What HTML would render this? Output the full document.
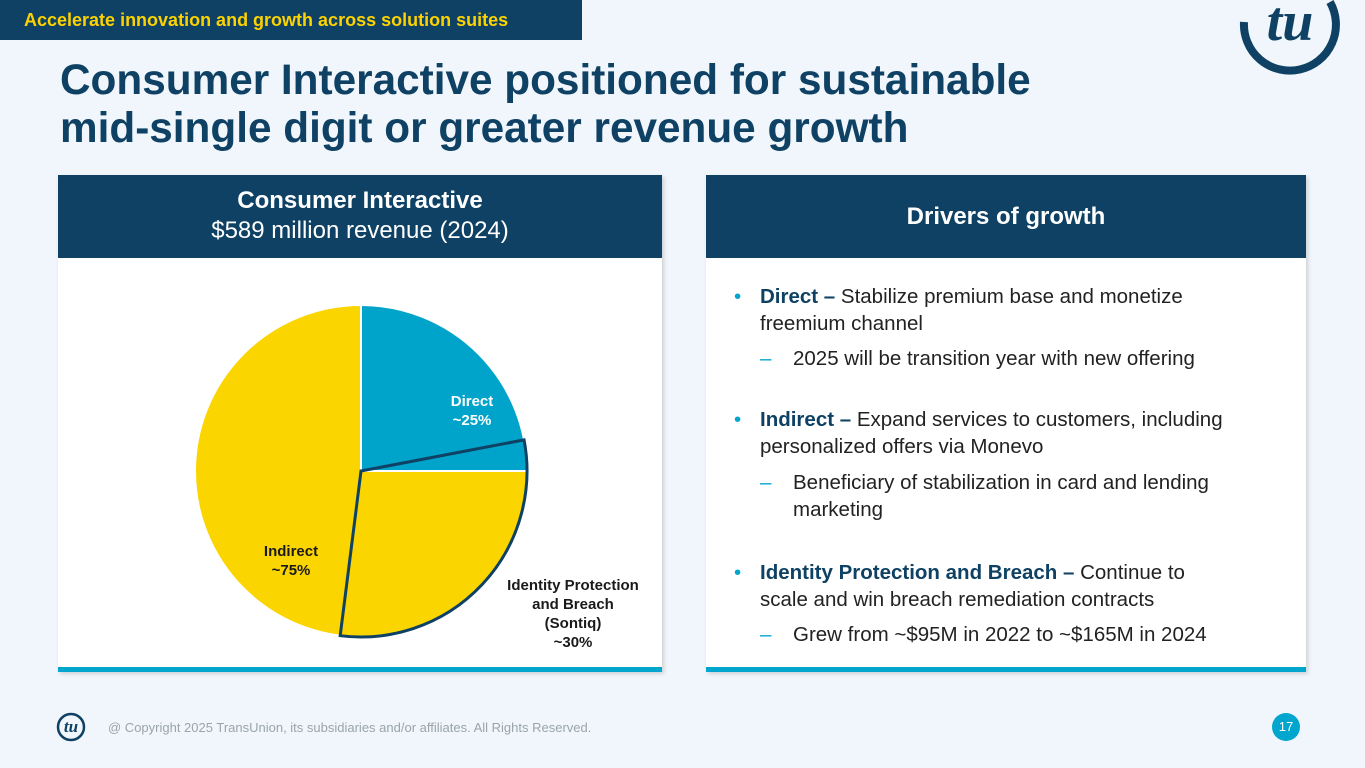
<!DOCTYPE html>
<html><head><meta charset="utf-8"><style>
body{margin:0;width:1365px;height:768px;background:#f0f6fb;font-family:"Liberation Sans",sans-serif;position:relative;overflow:hidden}
.abs{position:absolute}
.hdr{background:#0e4163;color:#fff;text-align:center;font-weight:bold}
.card{background:#fff;box-shadow:2px 2px 4px rgba(0,0,0,.15)}
.bar{background:#00a6ce}
.b{position:absolute;left:0;color:#222;font-size:20.5px;line-height:27px}
.b .m{position:absolute;left:-26px;color:#00a6ce}
</style></head><body>
<div class="abs" style="left:0;top:0;width:582px;height:40px;background:#0e4163;color:#fcd200;font-weight:bold;font-size:18px;line-height:40px;padding-left:24px;box-sizing:border-box">Accelerate innovation and growth across solution suites</div>
<svg class="abs" style="left:1230px;top:0" width="120" height="80" viewBox="0 0 120 80"><path d="M14 22 A46 46 0 1 0 100 2" fill="none" stroke="#0e4163" stroke-width="8"/><text x="60" y="40" text-anchor="middle" font-family="Liberation Serif" font-style="italic" font-weight="bold" font-size="56" fill="#0e4163">tu</text></svg>
<div class="abs" style="left:60px;top:56px;color:#0e4163;font-weight:bold;font-size:42.3px;line-height:48px">Consumer Interactive positioned for sustainable<br>mid-single digit or greater revenue growth</div>

<div class="abs card" style="left:58px;top:175px;width:604px;height:497px"></div>
<div class="abs hdr" style="left:58px;top:175px;width:604px;height:83px;font-size:24px;line-height:30px;padding-top:11px;box-sizing:border-box">Consumer Interactive<br><span style="font-weight:normal">$589 million revenue (2024)</span></div>
<div class="abs bar" style="left:58px;top:667px;width:604px;height:5px"></div>

<svg class="abs" id="pie" style="left:58px;top:258px" width="604" height="409"></svg>

<div class="abs card" style="left:706px;top:175px;width:600px;height:497px"></div>
<div class="abs hdr" style="left:706px;top:175px;width:600px;height:83px;font-size:24px;line-height:83px">Drivers of growth</div>
<div class="abs bar" style="left:706px;top:667px;width:600px;height:5px"></div>
<div class="abs" style="left:760px;top:0">
<div class="b" style="top:283px;width:480px"><span class="m">•</span><b style="color:#0e4163">Direct –</b> Stabilize premium base and monetize freemium channel</div>
<div class="b" style="top:345px;left:33px;width:480px"><span class="m" style="left:-33px">–</span>2025 will be transition year with new offering</div>
<div class="b" style="top:406px;width:520px"><span class="m">•</span><b style="color:#0e4163">Indirect –</b> Expand services to customers, including personalized offers via Monevo</div>
<div class="b" style="top:469px;left:33px;width:470px"><span class="m" style="left:-33px">–</span>Beneficiary of stabilization in card and lending marketing</div>
<div class="b" style="top:559px;width:470px"><span class="m">•</span><b style="color:#0e4163">Identity Protection and Breach –</b> Continue to scale and win breach remediation contracts</div>
<div class="b" style="top:621px;left:33px;width:500px"><span class="m" style="left:-33px">–</span>Grew from ~$95M in 2022 to ~$165M in 2024</div>
</div>

<svg class="abs" style="left:55px;top:712px" width="34" height="30" viewBox="0 0 34 30"><circle cx="16" cy="15" r="13" fill="none" stroke="#0e4163" stroke-width="2.5"/><text x="16" y="20" text-anchor="middle" font-family="Liberation Serif" font-style="italic" font-weight="bold" font-size="17" fill="#0e4163">tu</text></svg>
<div class="abs" style="left:108px;top:720px;font-size:13px;color:#9aa4ad">@ Copyright 2025 TransUnion, its subsidiaries and/or affiliates.  All Rights Reserved.</div>
<div class="abs" style="left:1272px;top:713px;width:28px;height:28px;border-radius:50%;background:#00a6ce;color:#fff;font-size:13px;text-align:center;line-height:28px">17</div>

<script>
const sliceNames=["Direct","Indirect"];
const sliceValues=[25,75];
const sliceLabels=["~25%","~75%"];
const overlayName="Identity Protection and Breach (Sontiq)";
const overlayStart=22;
const overlayValue=30;
const overlayLabel="~30%";
const svg=document.getElementById('pie');
const NS="http://www.w3.org/2000/svg";
const cx=303,cy=213,r=166;
const total=sliceValues.reduce((a,b)=>a+b,0);
function ang(p){return p/total*2*Math.PI;}
function pt(a,rr){return [cx+rr*Math.sin(a),cy-rr*Math.cos(a)];}
function arc(a0,a1){const p0=pt(a0,r),p1=pt(a1,r);const lg=(a1-a0)>Math.PI?1:0;return `M${cx},${cy}L${p0[0]},${p0[1]}A${r},${r} 0 ${lg} 1 ${p1[0]},${p1[1]}Z`;}
const colors=["#00a3c9","#fbd500"];
let acc=0;
sliceValues.forEach((v,i)=>{
 const p=document.createElementNS(NS,'path');
 p.setAttribute('d',arc(ang(acc),ang(acc+v)));
 p.setAttribute('fill',colors[i]);p.setAttribute('stroke','#fff');p.setAttribute('stroke-width','2');
 
 
 svg.appendChild(p);acc+=v;
});
const o=document.createElementNS(NS,'path');
o.setAttribute('d',arc(ang(overlayStart),ang(overlayStart+overlayValue)));
o.setAttribute('fill','none');o.setAttribute('stroke','#0e4163');o.setAttribute('stroke-width','3');


svg.appendChild(o);
function lbl(x,y,lines,col,name){const t=document.createElementNS(NS,'text');t.setAttribute('x',x);t.setAttribute('y',y);t.setAttribute('text-anchor','middle');t.setAttribute('font-size','15');t.setAttribute('font-weight','bold');t.setAttribute('fill',col);
 lines.forEach((s,i)=>{const ts=document.createElementNS(NS,'tspan');ts.setAttribute('x',x);ts.setAttribute('dy',i?19:0);ts.textContent=s;t.appendChild(ts);});
 
 
 svg.appendChild(t);}
lbl(414,148,[sliceNames[0],sliceLabels[0]],'#fff','label-direct');
lbl(233,298,[sliceNames[1],sliceLabels[1]],'#1a1a1a','label-indirect');
lbl(515,332,["Identity Protection","and Breach","(Sontiq)",overlayLabel],'#1a1a1a','label-identity-protection');
</script>
</body></html>
